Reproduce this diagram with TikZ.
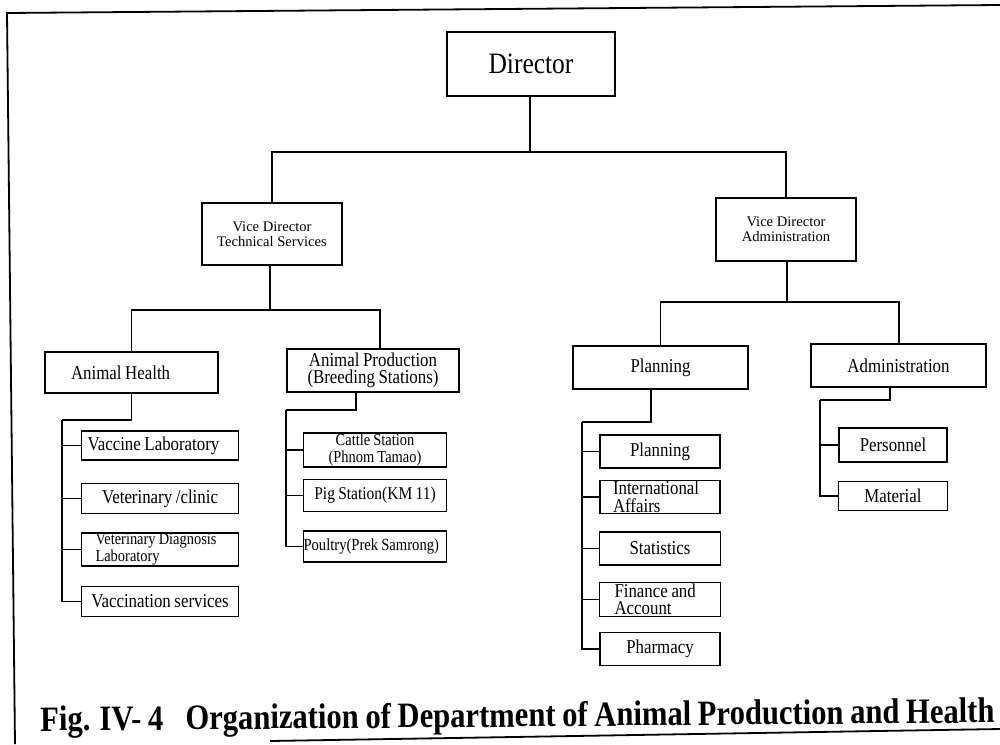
\documentclass[tikz,border=0pt]{standalone}
\usepackage{fontspec}
\setmainfont{Liberation Serif}
\newfontfamily\orgfont{Liberation Serif}[FakeStretch=0.86, WordSpace=0.86]
\usetikzlibrary{positioning}

\begin{document}
\begin{tikzpicture}[
  x=0.5pt, y=-0.5pt,
  node distance=9pt,
  orgbox/.style={draw, line width=0.7pt, inner sep=0pt, align=center, font=\orgfont\fontsize{9.8}{8.6}\selectfont},
  boxsize/.style 2 args={minimum width=#1*0.5pt, minimum height=#2*0.5pt},
  lefttext/.style={align=left, execute at begin node={\spaceskip=0pt\xspaceskip=0pt\relax}},
  smalltext/.style={font=\orgfont\fontsize{8.4}{8.4}\selectfont},
  vicebox/.style={orgbox, font=\fontsize{7.3}{7.6}\selectfont},
  orgline/.style={line width=0.7pt},
  framing/.style={line width=0.9pt}
]
\useasboundingbox (0,0) rectangle (1000,744);

% Frame of the scanned page
\draw[framing] (15,744) -- (7,13) -- (1000,5);
\draw[framing] (270,741) -- (1000,729);

% Top: director and the two vice directors
\node[orgbox, boxsize={168}{64}, font=\orgfont\fontsize{14.8}{16}\selectfont] (director) at (531,64) {Director};
\node[vicebox, boxsize={140}{62}] (vdtech) at (272,234) {Vice Director\\Technical Services};
\node[vicebox, boxsize={140}{63}] (vdadmin) at (786,229.5) {Vice Director\\Administration};

% Divisions
\node[orgbox, boxsize={173}{41}, lefttext, inner xsep=13pt, text width=60.5pt] (health) at (131.5,372.5) {Animal Health};
\node[orgbox, boxsize={172}{43}] (prod) at (373,370.5) {Animal Production\\(Breeding Stations)};
\node[orgbox, boxsize={175}{43}] (planning) at (660.5,367.5) {Planning};
\node[orgbox, boxsize={175}{43}] (admin) at (898.5,365.5) {Administration};

% Animal Health units
\node[orgbox, boxsize={157}{29}, lefttext, inner xsep=3pt, text width=72.5pt] (vaclab) at (160,445.5) {Vaccine Laboratory};
\node[orgbox, boxsize={157}{30}, below=11pt of vaclab] (vetclinic) {Veterinary /clinic};
\node[orgbox, boxsize={157}{33}, font=\orgfont\fontsize{8.4}{7.6}\selectfont, lefttext, inner xsep=7pt, text width=64.5pt, below=9pt of vetclinic] (vetdiag) {Veterinary Diagnosis\\Laboratory};
\node[orgbox, boxsize={157}{30}, below=9.5pt of vetdiag] (vaccination) {Vaccination services};

% Breeding stations
\node[orgbox, smalltext, boxsize={143}{34}] (cattle) at (375,450) {Cattle Station\\(Phnom Tamao)};
\node[orgbox, boxsize={143}{32}, font=\orgfont\fontsize{9}{9}\selectfont, below=5.5pt of cattle] (pig) {Pig Station(KM 11)};
\node[orgbox, boxsize={143}{31}, font=\orgfont\fontsize{8.5}{8.5}\selectfont, lefttext, text width=71.5pt, below=9pt of pig] (poultry) {Poultry(Prek Samrong)};

% Planning units
\node[orgbox, boxsize={120}{33}] (plansub) at (660,451.5) {Planning};
\node[orgbox, boxsize={120}{33}, font=\orgfont\fontsize{9.8}{8.8}\selectfont, lefttext, inner xsep=6.5pt, text width=47pt, below=5.5pt of plansub] (intl) {International\\Affairs};
\node[orgbox, boxsize={121}{33}, below=8.5pt of intl] (stats) {Statistics};
\node[orgbox, boxsize={121}{34}, font=\orgfont\fontsize{9.8}{8.8}\selectfont, lefttext, inner xsep=7.5pt, text width=45.5pt, below=8pt of stats] (finance) {Finance and\\Account};
\node[orgbox, boxsize={120}{33}, below=7.5pt of finance] (pharmacy) {Pharmacy};

% Administration units
\node[orgbox, boxsize={108}{34}] (personnel) at (893,445) {Personnel};
\node[orgbox, boxsize={109}{29}, below=9pt of personnel] (material) {Material};

% Caption
\node[anchor=base west, rotate=0.5, inner sep=0pt, font=\orgfont\bfseries\fontsize{17.8}{20}\selectfont] (caption) at (40,731) {Fig. IV- 4\hspace{11pt}Organization of Department of Animal Production and Health};

% Connectors
\coordinate (topbus) at (530,152);
\draw[orgline] (director.south -| topbus) -- (topbus);
\draw[orgline] (vdtech.north) |- (topbus) -| (vdadmin.north);

\coordinate (techbus) at (270,310);
\coordinate (prodjoin) at (380,310);
\draw[orgline] (vdtech.south -| techbus) -- (techbus);
\draw[orgline] (health.north) |- (prodjoin) -- (prodjoin |- prod.north);

\coordinate (adminbus) at (787,302);
\coordinate (adminjoin) at (899,302);
\draw[orgline] (vdadmin.south -| adminbus) -- (adminbus);
\draw[orgline] (planning.north) |- (adminjoin) -- (adminjoin |- admin.north);

\coordinate (healthturn) at (62,420);
\draw[orgline] (health.south) |- (healthturn);
\foreach \unit in {vaclab, vetclinic, vetdiag, vaccination}
  \draw[orgline] (healthturn) |- (\unit.west);

\coordinate (proddrop) at (356,410);
\coordinate (prodturn) at (286,410);
\draw[orgline] (proddrop |- prod.south) -- (proddrop) -- (prodturn);
\foreach \unit in {cattle, pig, poultry}
  \draw[orgline] (prodturn) |- (\unit.west);

\coordinate (plandrop) at (651,422);
\coordinate (planturn) at (582,422);
\draw[orgline] (plandrop |- planning.south) -- (plandrop) -- (planturn);
\foreach \unit in {plansub, intl, stats, finance, pharmacy}
  \draw[orgline] (planturn) |- (\unit.west);

\coordinate (admindrop) at (890,400);
\coordinate (adminturn) at (820,400);
\draw[orgline] (admindrop |- admin.south) -- (admindrop) -- (adminturn);
\foreach \unit in {personnel, material}
  \draw[orgline] (adminturn) |- (\unit.west);
\end{tikzpicture}
\end{document}
